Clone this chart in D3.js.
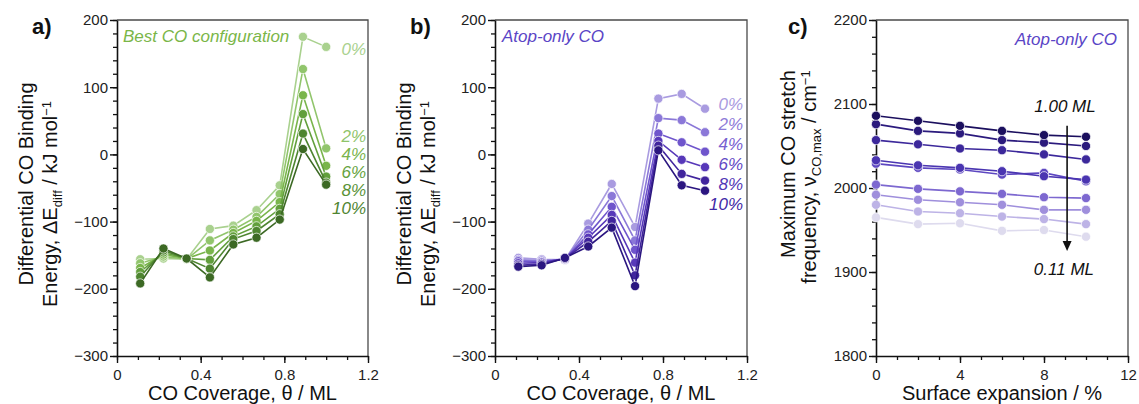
<!DOCTYPE html>
<html><head><meta charset="utf-8">
<script src="https://cdn.jsdelivr.net/npm/d3@7"></script>
<style>
body{margin:0;background:#fff;}
text{font-family:"Liberation Sans",Arial,Helvetica,sans-serif;}
</style>
</head><body>
<svg id="chart" width="1139" height="404"></svg>
<script>
// ---------------- DATA ----------------
const coverage = [0.111, 0.222, 0.333, 0.444, 0.556, 0.667, 0.778, 0.889, 1.0];
const strainLabels = ["0%", "2%", "4%", "6%", "8%", "10%"];

// Panel a: best CO configuration (kJ/mol)
const bestCO_0  = [-156, -155, -156, -111, -106,  -83, -46, 175, 160];
const bestCO_2  = [-162, -152, -156, -128, -112,  -93, -59, 127,   9];
const bestCO_4  = [-169, -149, -155, -143, -117,  -99, -71,  88, -17];
const bestCO_6  = [-175, -146, -155, -157, -122, -107, -81,  60, -33];
const bestCO_8  = [-182, -143, -155, -170, -126, -114, -89,  31, -42];
const bestCO_10 = [-192, -140, -155, -183, -134, -124, -97,   8, -45];

// Panel b: atop-only CO (kJ/mol)
const atop_0  = [-154, -156, -157, -103,  -44, -108, 83,  90,  68];
const atop_2  = [-157, -158, -156, -112,  -62, -128, 54,  51,  33];
const atop_4  = [-159, -160, -156, -119,  -78, -142, 31,  18,   4];
const atop_6  = [-162, -161, -155, -124,  -90, -161, 20,  -8, -19];
const atop_8  = [-165, -163, -155, -130,  -99, -180, 13, -29, -39];
const atop_10 = [-167, -165, -154, -137, -109, -196,  6, -46, -54];

// Panel c: max CO stretch frequency vs surface expansion (cm^-1)
const expansion = [0, 2, 4, 6, 8, 10];
const coverageLabelsC = ["0.11", "0.22", "0.33", "0.44", "0.56", "0.67", "0.78", "0.89", "1.00"];
const nu_011 = [1965, 1957, 1958, 1949, 1950, 1942];
const nu_022 = [1980, 1972, 1970, 1966, 1963, 1957];
const nu_033 = [1992, 1986, 1983, 1980, 1974, 1974];
const nu_044 = [2004, 1999, 1996, 1993, 1989, 1988];
const nu_056 = [2029, 2024, 2022, 2016, 2018, 2008];
const nu_067 = [2033, 2027, 2024, 2020, 2014, 2010];
const nu_078 = [2057, 2052, 2047, 2045, 2040, 2034];
const nu_089 = [2076, 2068, 2065, 2057, 2054, 2050];
const nu_100 = [2086, 2080, 2074, 2068, 2063, 2061];

// Tick labels
const xTicksAB = [0, 0.4, 0.8, 1.2];
const yTicksAB = [-300, -200, -100, 0, 100, 200];
const xTicksC = [0, 4, 8, 12];
const yTicksC = [1800, 1900, 2000, 2100, 2200];

// ---------------- STYLE ----------------
const greens = ["#a9d18e", "#91c56c", "#79b54b", "#629f3c", "#4e8530", "#3c6924"];
const greenText = ["#a9d18e", "#8fc46a", "#7ab44c", "#66a340", "#5a9338", "#4f8531"];
const purples = ["#a99be0", "#8b78d8", "#6f55cc", "#5738b9", "#41259d", "#2b1680"];
const purpleText = ["#a99be0", "#8e7bd8", "#7761d0", "#6249c4", "#5238b6", "#4129a6"];
const purplesC = ["#dedbee", "#bdb3e6", "#9f8fdc", "#7d68d0", "#5d47c1", "#4a35b1", "#3c289b", "#2b1a7d", "#1b0f5e"];

const svg = d3.select("#chart");
const TOP = 20, BOTTOM = 356;

function drawPanel(o) {
  const g = svg.append("g");
  const x = d3.scaleLinear().domain(o.xDomain).range([o.xLeft, o.xRight]);
  const y = d3.scaleLinear().domain(o.yDomain).range([BOTTOM, TOP]);

  g.append("path")
    .attr("d", `M${o.xLeft},${TOP}H${o.xRight}V${BOTTOM}`)
    .attr("fill", "none").attr("stroke", "#4a4a4a").attr("stroke-width", 1.3);

  const xMinor = d3.range(o.xDomain[0], o.xDomain[1] + 1e-9, o.xMinorStep);
  const yMinor = d3.range(o.yDomain[0], o.yDomain[1] + 1e-9, o.yMinorStep);
  const gxm = g.append("g").attr("transform", `translate(0,${BOTTOM})`)
    .call(d3.axisBottom(x).tickValues(xMinor).tickSize(4).tickFormat(""));
  const gym = g.append("g").attr("transform", `translate(${o.xLeft},0)`)
    .call(d3.axisLeft(y).tickValues(yMinor).tickSize(4).tickFormat(""));
  [gxm, gym].forEach(a => { a.select(".domain").remove(); a.selectAll("line").attr("stroke", "#111").attr("stroke-width", 1.3); });

  const gx = g.append("g").attr("transform", `translate(0,${BOTTOM})`)
    .call(d3.axisBottom(x).tickValues(o.xTicks).tickSize(7).tickSizeOuter(0).tickPadding(3).tickFormat(o.fmtX));
  const gy = g.append("g").attr("transform", `translate(${o.xLeft},0)`)
    .call(d3.axisLeft(y).tickValues(o.yTicks).tickSize(7).tickSizeOuter(0).tickPadding(2).tickFormat(d3.format("d")));
  [gx, gy].forEach(a => {
    a.select(".domain").attr("stroke", "#111").attr("stroke-width", 1.6);
    a.selectAll("line").attr("stroke", "#111").attr("stroke-width", 1.4);
    a.selectAll("text").attr("font-size", 15).attr("fill", "#222")
      .attr("font-family", '"Liberation Sans",Arial,sans-serif');
  });
  gx.selectAll("text").attr("dy", "0.9em");

  const line = d3.line().x(d => x(d[0])).y(d => y(d[1]));
  o.series.forEach((s, i) => {
    const pts = o.xs.map((xv, j) => [xv, s[j]]);
    g.append("path").datum(pts).attr("d", line)
      .attr("fill", "none").attr("stroke", o.colors[i]).attr("stroke-width", 1.6);
    g.selectAll(null).data(pts).enter().append("circle")
      .attr("cx", d => x(d[0])).attr("cy", d => y(d[1])).attr("r", 4.6)
      .attr("fill", o.colors[i]).attr("stroke", "#fff").attr("stroke-width", 0.7);
  });

  g.append("text").attr("x", (o.xLeft + o.xRight) / 2).attr("y", 400)
    .attr("text-anchor", "middle").attr("font-size", 20).attr("fill", "#111").text(o.xTitle);
  return { g, x, y };
}

function yTitle(xPos1, yPos1, xPos2, yPos2, line1, line2parts) {
  svg.append("text").attr("transform", `translate(${xPos1},${yPos1}) rotate(-90)`)
    .attr("text-anchor", "middle").attr("font-size", 20).attr("fill", "#111").text(line1);
  const t2 = svg.append("text").attr("transform", `translate(${xPos2},${yPos2}) rotate(-90)`)
    .attr("text-anchor", "middle").attr("font-size", 20).attr("fill", "#111");
  line2parts.forEach(p => {
    const ts = t2.append("tspan").text(p.t);
    if (p.sub) ts.attr("font-size", 13).attr("dy", 5);
    else if (p.sup) ts.attr("font-size", 13).attr("dy", p.dy);
    else if (p.dy) ts.attr("dy", p.dy);
  });
}

function seriesLabels(xRight, ys, colors) {
  strainLabels.forEach((lab, i) => {
    svg.append("text").attr("x", xRight).attr("y", ys[i]).attr("text-anchor", "end")
      .attr("font-size", 17).attr("font-style", "italic").attr("fill", colors[i]).text(lab);
  });
}

const fmtCov = d => d === 0 ? "0" : d3.format(".1f")(d);

// ---------------- PANEL A ----------------
drawPanel({
  xLeft: 117, xRight: 368, xDomain: [0, 1.2], yDomain: [-300, 200],
  xTicks: xTicksAB, yTicks: yTicksAB, xMinorStep: 0.1, yMinorStep: 20, fmtX: fmtCov,
  xs: coverage, series: [bestCO_0, bestCO_2, bestCO_4, bestCO_6, bestCO_8, bestCO_10],
  colors: greens, xTitle: "CO Coverage, \u03B8 / ML"
});
svg.append("text").attr("x", 123).attr("y", 42).attr("font-size", 17).attr("font-style", "italic")
  .attr("fill", "#7ab648").text("Best CO configuration");
seriesLabels(366, [55, 142, 160, 178, 196, 214], greenText);
yTitle(33, 184, 57, 204, "Differential CO Binding",
  [{t: "Energy, \u0394E"}, {t: "diff", sub: true}, {t: " / kJ mol", dy: -5}, {t: "\u22121", sup: true, dy: -6}]);
svg.append("text").attr("x", 32).attr("y", 34).attr("font-size", 22).attr("font-weight", "bold").attr("fill", "#111").text("a)");

// ---------------- PANEL B ----------------
drawPanel({
  xLeft: 495, xRight: 747, xDomain: [0, 1.2], yDomain: [-300, 200],
  xTicks: xTicksAB, yTicks: yTicksAB, xMinorStep: 0.1, yMinorStep: 20, fmtX: fmtCov,
  xs: coverage, series: [atop_0, atop_2, atop_4, atop_6, atop_8, atop_10],
  colors: purples, xTitle: "CO Coverage, \u03B8 / ML"
});
svg.append("text").attr("x", 502).attr("y", 42).attr("font-size", 17).attr("font-style", "italic")
  .attr("fill", "#5a45c6").text("Atop-only CO");
seriesLabels(743, [110, 130, 150, 170, 190, 210], purpleText);
yTitle(411, 184, 435, 204, "Differential CO Binding",
  [{t: "Energy, \u0394E"}, {t: "diff", sub: true}, {t: " / kJ mol", dy: -5}, {t: "\u22121", sup: true, dy: -6}]);
svg.append("text").attr("x", 410).attr("y", 34).attr("font-size", 22).attr("font-weight", "bold").attr("fill", "#111").text("b)");

// ---------------- PANEL C ----------------
const pc = drawPanel({
  xLeft: 876, xRight: 1128, xDomain: [0, 12], yDomain: [1800, 2200],
  xTicks: xTicksC, yTicks: yTicksC, xMinorStep: 1, yMinorStep: 20, fmtX: d3.format("d"),
  xs: expansion, series: [nu_011, nu_022, nu_033, nu_044, nu_056, nu_067, nu_078, nu_089, nu_100],
  colors: purplesC, xTitle: "Surface expansion / %"
});
svg.append("text").attr("x", 1117).attr("y", 45).attr("text-anchor", "end").attr("font-size", 17)
  .attr("font-style", "italic").attr("fill", "#5a45c6").text("Atop-only CO");
const ax = pc.x(9.1);
svg.append("line").attr("x1", ax).attr("x2", ax).attr("y1", pc.y(2074)).attr("y2", pc.y(1935))
  .attr("stroke", "#111").attr("stroke-width", 1.6);
svg.append("path").attr("d", `M${ax - 4.5},${pc.y(1937)}L${ax + 4.5},${pc.y(1937)}L${ax},${pc.y(1925)}Z`).attr("fill", "#111");
svg.append("text").attr("x", pc.x(9.0)).attr("y", pc.y(2090)).attr("text-anchor", "middle")
  .attr("font-size", 17).attr("font-style", "italic").attr("fill", "#111").text(coverageLabelsC[8] + " ML");
svg.append("text").attr("x", pc.x(8.95)).attr("y", pc.y(1896)).attr("text-anchor", "middle")
  .attr("font-size", 17).attr("font-style", "italic").attr("fill", "#111").text(coverageLabelsC[0] + " ML");
yTitle(795, 164, 816, 177, "Maximum CO stretch",
  [{t: "frequency, \u03BD"}, {t: "CO,max", sub: true}, {t: " / cm", dy: -5}, {t: "\u22121", sup: true, dy: -6}]);
svg.append("text").attr("x", 788).attr("y", 34).attr("font-size", 22).attr("font-weight", "bold").attr("fill", "#111").text("c)");
</script>
</body></html>
